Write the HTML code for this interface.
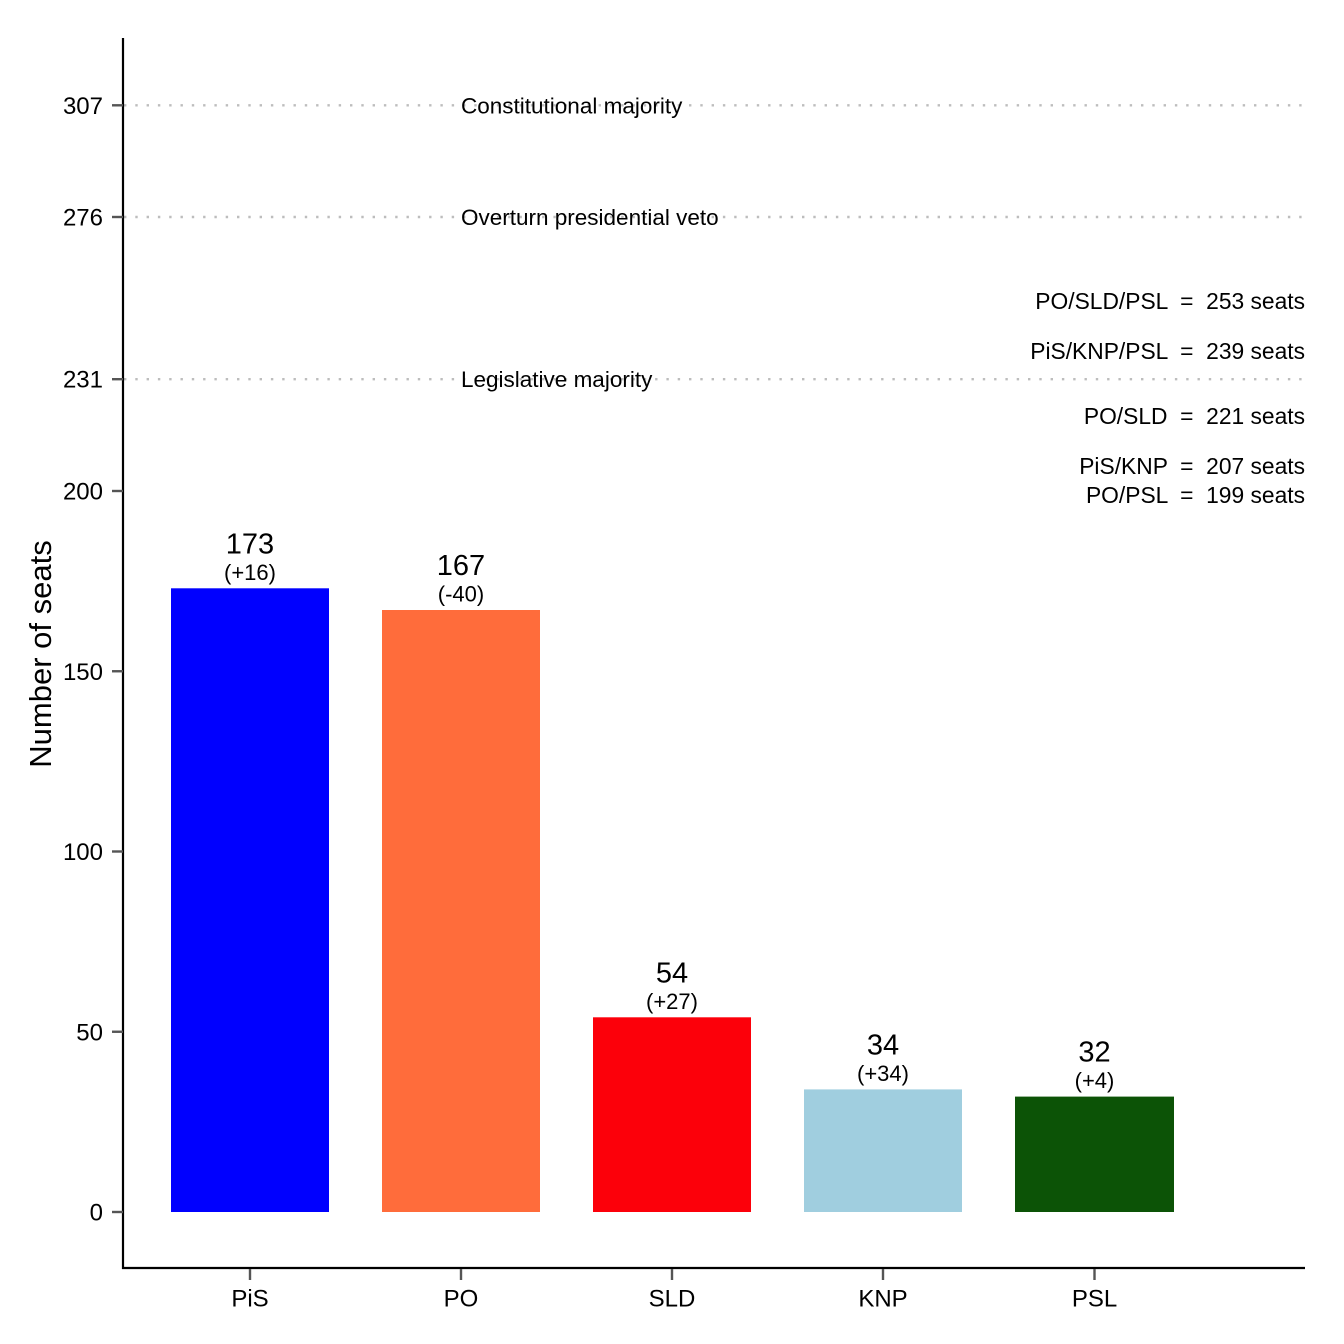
<!DOCTYPE html>
<html><head><meta charset="utf-8"><style>
html,body{margin:0;padding:0;background:#fff;}
svg{display:block;font-family:"Liberation Sans",Arial,sans-serif;}
</style></head><body>
<svg width="1344" height="1344" viewBox="0 0 1344 1344" xmlns="http://www.w3.org/2000/svg">
<rect width="1344" height="1344" fill="#fff"/>
<!-- dotted reference lines -->
<g stroke="#bdbdbd" stroke-width="2.4" stroke-dasharray="2.4 8.9" fill="none">
<line x1="124" y1="105.3" x2="1305" y2="105.3"/>
<line x1="124" y1="217" x2="1305" y2="217"/>
<line x1="124" y1="379.2" x2="1305" y2="379.2"/>
</g>
<!-- bars -->
<rect x="171" y="588.3" width="158" height="623.7" fill="#0000FF"/>
<rect x="382" y="610" width="158" height="602" fill="#FF6C3B"/>
<rect x="593" y="1017.3" width="158" height="194.7" fill="#FC000A"/>
<rect x="804" y="1089.4" width="158" height="122.6" fill="#A0CEDF"/>
<rect x="1015" y="1096.6" width="159" height="115.4" fill="#0C5306"/>
<!-- axes -->
<g stroke="#000" stroke-width="2.2" fill="none">
<line x1="123" y1="38" x2="123" y2="1269"/>
<line x1="122" y1="1268" x2="1305" y2="1268"/>
</g>
<!-- y ticks -->
<g stroke="#555" stroke-width="2.4">
<line x1="112" y1="1212" x2="123" y2="1212"/>
<line x1="112" y1="1031.75" x2="123" y2="1031.75"/>
<line x1="112" y1="851.5" x2="123" y2="851.5"/>
<line x1="112" y1="671.25" x2="123" y2="671.25"/>
<line x1="112" y1="491" x2="123" y2="491"/>
<line x1="112" y1="379.2" x2="123" y2="379.2"/>
<line x1="112" y1="217" x2="123" y2="217"/>
<line x1="112" y1="105.3" x2="123" y2="105.3"/>
</g>
<!-- x ticks -->
<g stroke="#555" stroke-width="2.4">
<line x1="250" y1="1269" x2="250" y2="1280"/>
<line x1="461" y1="1269" x2="461" y2="1280"/>
<line x1="672" y1="1269" x2="672" y2="1280"/>
<line x1="883" y1="1269" x2="883" y2="1280"/>
<line x1="1094.5" y1="1269" x2="1094.5" y2="1280"/>
</g>
<!-- y tick labels -->
<g font-size="24" text-anchor="end" fill="#000">
<text x="103" y="1220.5">0</text>
<text x="103" y="1040.3">50</text>
<text x="103" y="860">100</text>
<text x="103" y="679.8">150</text>
<text x="103" y="499.5">200</text>
<text x="103" y="387.7">231</text>
<text x="103" y="225.5">276</text>
<text x="103" y="113.8">307</text>
</g>
<!-- x tick labels -->
<g font-size="24" text-anchor="middle" fill="#000">
<text x="250" y="1306.5">PiS</text>
<text x="461" y="1306.5">PO</text>
<text x="672" y="1306.5">SLD</text>
<text x="883" y="1306.5">KNP</text>
<text x="1094.5" y="1306.5">PSL</text>
</g>
<!-- y title -->
<text transform="translate(51,654) rotate(-90)" font-size="31" text-anchor="middle" fill="#000">Number of seats</text>
<!-- reference line labels -->
<g font-size="22.5" fill="#000">
<text x="461" y="113.3">Constitutional majority</text>
<text x="461" y="225">Overturn presidential veto</text>
<text x="461" y="387.2">Legislative majority</text>
</g>
<!-- coalition labels -->
<g font-size="22.8" fill="#000" text-anchor="end" style="white-space:pre">
<text x="1305" y="309" xml:space="preserve">PO/SLD/PSL  =  253 seats</text>
<text x="1305" y="359" xml:space="preserve">PiS/KNP/PSL  =  239 seats</text>
<text x="1305" y="424" xml:space="preserve">PO/SLD  =  221 seats</text>
<text x="1305" y="474" xml:space="preserve">PiS/KNP  =  207 seats</text>
<text x="1305" y="503" xml:space="preserve">PO/PSL  =  199 seats</text>
</g>
<!-- bar value labels -->
<g font-size="29" text-anchor="middle" fill="#000">
<text x="250" y="553.5">173</text>
<text x="461" y="575">167</text>
<text x="672" y="982.5">54</text>
<text x="883" y="1054.5">34</text>
<text x="1094.5" y="1061.5">32</text>
</g>
<g font-size="22" text-anchor="middle" fill="#000">
<text x="250" y="580">(+16)</text>
<text x="461" y="601.5">(-40)</text>
<text x="672" y="1009">(+27)</text>
<text x="883" y="1081">(+34)</text>
<text x="1094.5" y="1088">(+4)</text>
</g>
</svg>
</body></html>
